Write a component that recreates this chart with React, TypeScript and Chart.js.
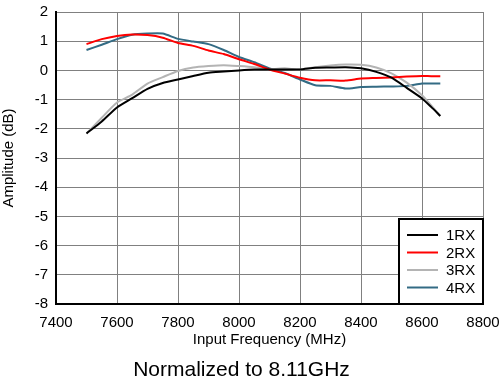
import React, { useEffect, useRef } from "react";
import { Chart, registerables } from "chart.js";

Chart.register(...registerables);

const freqs = [7500, 7550, 7600, 7650, 7700, 7750, 7800, 7850, 7900, 7950, 8000, 8050, 8100, 8150, 8200, 8250, 8300, 8350, 8400, 8450, 8500, 8550, 8600, 8630, 8660];
const rx1 = [-2.16, -1.75, -1.27, -0.95, -0.63, -0.43, -0.31, -0.19, -0.08, -0.04, 0, 0.03, 0.03, 0.03, 0.03, 0.09, 0.1, 0.11, 0.07, -0.05, -0.25, -0.6, -0.96, -1.25, -1.56];
const rx2 = [0.9, 1.07, 1.18, 1.23, 1.21, 1.12, 0.94, 0.84, 0.68, 0.56, 0.38, 0.22, 0.03, -0.11, -0.25, -0.34, -0.34, -0.35, -0.28, -0.26, -0.24, -0.21, -0.19, -0.2, -0.2];
const rx3 = [-2.16, -1.62, -1.1, -0.83, -0.45, -0.23, -0.02, 0.1, 0.15, 0.18, 0.15, 0.11, 0.04, 0.07, 0.03, 0.11, 0.17, 0.2, 0.19, 0.1, -0.1, -0.42, -0.85, -1.2, -1.56];
const rx4 = [0.7, 0.88, 1.07, 1.22, 1.26, 1.26, 1.08, 0.99, 0.9, 0.7, 0.46, 0.28, 0.07, -0.09, -0.31, -0.51, -0.53, -0.62, -0.57, -0.56, -0.55, -0.53, -0.45, -0.45, -0.45];
const seriesNames = ["1RX", "2RX", "3RX", "4RX"];
const seriesColors = ["#000000", "#ff0000", "#b4b4b4", "#336b84"];
const xTitle = "Input Frequency (MHz)";
const yTitle = "Amplitude (dB)";
const chartTitle = "Normalized to 8.11GHz";

const FONT = "Arial, 'Liberation Sans', sans-serif";

const insideLegend = {
  id: "insideLegend",
  afterDraw(chart: any) {
    const { ctx, chartArea } = chart;
    const w = 84;
    const h = 85;
    const x = chartArea.right - w;
    const y = chartArea.bottom - h;
    ctx.save();
    ctx.fillStyle = "#ffffff";
    ctx.fillRect(x, y, w, h);
    ctx.strokeStyle = "#000000";
    ctx.lineWidth = 2;
    ctx.strokeRect(x, y, w, h);
    ctx.font = `15px ${FONT}`;
    ctx.textBaseline = "middle";
    ctx.textAlign = "left";
    chart.data.datasets.forEach((ds: any, i: number) => {
      const ry = y + 16 + i * 17.5;
      ctx.strokeStyle = ds.borderColor;
      ctx.lineWidth = 2;
      ctx.beginPath();
      ctx.moveTo(x + 8, ry);
      ctx.lineTo(x + 39, ry);
      ctx.stroke();
      ctx.fillStyle = "#000000";
      ctx.fillText(ds.label, x + 47, ry + 1);
    });
    ctx.restore();
  },
};

export default function App() {
  const ref = useRef<HTMLCanvasElement | null>(null);
  useEffect(() => {
    if (!ref.current) return;
    const all = [rx1, rx2, rx3, rx4];
    const chart = new Chart(ref.current, {
      type: "line",
      data: {
        datasets: all.map((vals, i) => ({
          label: seriesNames[i],
          data: freqs.map((f, j) => ({ x: f, y: vals[j] })),
          borderColor: seriesColors[i],
          backgroundColor: seriesColors[i],
          borderWidth: 2,
          pointRadius: 0,
          tension: 0.2,
          fill: false,
        })),
      },
      options: {
        animation: false,
        responsive: false,
        maintainAspectRatio: false,
        layout: { padding: { top: 12, right: 17, left: 0, bottom: 0 } },
        plugins: {
          legend: { display: false },
          tooltip: { enabled: false },
          title: {
            display: true,
            text: chartTitle,
            position: "bottom",
            color: "#000",
            font: { size: 21, family: FONT, weight: "normal" },
            padding: { top: 0, bottom: 1 },
          },
        },
        scales: {
          x: {
            type: "linear",
            min: 7400,
            max: 8800,
            afterFit: (s: any) => {
              s.height = 53.8;
              s.paddingLeft = 0;
              s.paddingRight = 0;
            },
            ticks: {
              stepSize: 200,
              color: "#000",
              font: { size: 15, family: FONT },
              padding: 10,
              maxRotation: 0,
              callback: (v: any) => String(v),
            },
            grid: { color: "#808080", lineWidth: 1, drawTicks: false },
            border: { color: "#000", width: 2 },
            title: { display: true, text: xTitle, color: "#000", font: { size: 15, family: FONT }, padding: { top: 0, bottom: 9 } },
          },
          y: {
            min: -8,
            max: 2,
            afterFit: (s: any) => {
              s.width = 56;
              s.paddingTop = 0;
              s.paddingBottom = 0;
            },
            ticks: { stepSize: 1, color: "#000", font: { size: 15, family: FONT }, padding: 8 },
            grid: { color: "#808080", lineWidth: 1, drawTicks: false },
            border: { color: "#000", width: 2 },
            title: { display: true, text: yTitle, color: "#000", font: { size: 15, family: FONT }, padding: { top: 0, bottom: 8 } },
          },
        },
      },
      plugins: [insideLegend],
    } as any);
    return () => chart.destroy();
  }, []);
  return (
    <div style={{ position: "fixed", left: 0, top: 0, width: 500, height: 384, background: "#fff" }}>
      <canvas ref={ref} width={500} height={384} style={{ width: 500, height: 384 }} />
    </div>
  );
}
